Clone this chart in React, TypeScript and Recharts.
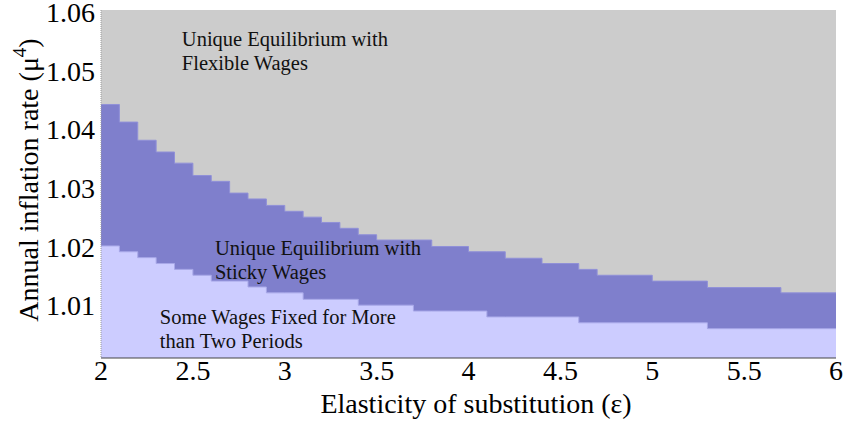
import React from "react";
import {
  ComposedChart,
  Area,
  XAxis,
  YAxis,
  CartesianGrid,
  ReferenceDot,
} from "recharts";

// start of each elasticity interval (last value closes the range)
const epsilon = [
  2.0, 2.1, 2.2, 2.3, 2.4, 2.5, 2.6, 2.7, 2.8, 2.9, 3.0, 3.1, 3.2, 3.3, 3.4, 3.5,
  3.7, 3.8, 4.0, 4.1, 4.2, 4.4, 4.6, 4.7, 5.0, 5.3, 5.7, 6.0,
];
// upper edge of the sticky-wage region (unique equilibrium boundary)
const upperBound = [
  1.0444, 1.0414, 1.0383, 1.0363, 1.0344, 1.0323, 1.0313, 1.0293, 1.0283, 1.0272,
  1.0262, 1.0252, 1.0243, 1.0233, 1.0222, 1.0213, 1.0213, 1.0202, 1.0193, 1.0193,
  1.0182, 1.0173, 1.0163, 1.0153, 1.0143, 1.0132, 1.0123, 1.0123,
];
// upper edge of the "fixed for more than two periods" region
const lowerBound = [
  1.0203, 1.0193, 1.0183, 1.0173, 1.0163, 1.0153, 1.0143, 1.0143, 1.0133, 1.0123,
  1.0123, 1.0112, 1.0112, 1.0112, 1.0102, 1.0102, 1.0092, 1.0092, 1.0092, 1.0082,
  1.0082, 1.0082, 1.0072, 1.0072, 1.0072, 1.0062, 1.0062, 1.0062,
];

const xTicks = [2, 2.5, 3, 3.5, 4, 4.5, 5, 5.5, 6];
const yTicks = [1.01, 1.02, 1.03, 1.04, 1.05, 1.06];
const yDomain = [1.0012, 1.0605];

const regionLabels = [
  { x: 2.44, y: 1.0554, lines: ["Unique Equilibrium with", "Flexible Wages"] },
  { x: 2.62, y: 1.0197, lines: ["Unique Equilibrium with", "Sticky Wages"] },
  { x: 2.32, y: 1.008, lines: ["Some Wages Fixed for More", "than Two Periods"] },
];

const data = epsilon.map((e, i) => ({ e, upper: upperBound[i], lower: lowerBound[i] }));

const FONT = "Liberation Serif";

const regionText = (lines: string[]) => (props: any) => {
  const vb = props.viewBox || {};
  const x = vb.x + (vb.width || 0) / 2;
  const y = vb.y + (vb.height || 0) / 2;
  return (
    <text x={x} y={y} fontFamily={FONT} fontSize={20.5} fill="#111">
      {lines.map((l, i) => (
        <tspan key={i} x={x} dy={i === 0 ? 6 : 24}>
          {l}
        </tspan>
      ))}
    </text>
  );
};

const XTick = (props: any) => (
  <text x={props.x} y={props.y + 22} textAnchor="middle" fontFamily={FONT} fontSize={28} fill="#000">
    {props.payload.value}
  </text>
);

const YTick = (props: any) => (
  <text x={props.x} y={props.y + 9} textAnchor="end" fontFamily={FONT} fontSize={28} fill="#000">
    {props.payload.value.toFixed(2)}
  </text>
);

const YTitle = () => (
  <text
    transform="translate(38,180) rotate(-90)"
    textAnchor="middle"
    fontFamily={FONT}
    fontSize={28}
    fill="#000"
  >
    Annual inflation rate (μ
    <tspan dy={-12} fontSize={19}>4</tspan>
    <tspan dy={12}>)</tspan>
  </text>
);

const XTitle = () => (
  <text x={476} y={413} textAnchor="middle" fontFamily={FONT} fontSize={28} fill="#000">
    Elasticity of substitution (ε)
  </text>
);

export default function App() {
  return (
    <div style={{ width: 843, height: 423, background: "#fff" }}>
      <style>{`body{margin:0}`}</style>
      <ComposedChart
        width={843}
        height={423}
        data={data}
        margin={{ top: 10, right: 7, bottom: 0, left: 0 }}
      >
        <CartesianGrid horizontal={false} vertical={false} fill="#cccccc" />
        <XAxis
          dataKey="e"
          type="number"
          domain={[2, 6]}
          ticks={xTicks}
          height={65}
          tickSize={0}
          tickMargin={0}
          tickLine={false}
          axisLine={{ stroke: "#444", strokeWidth: 1 }}
          tick={<XTick />}
          label={{ content: <XTitle /> }}
        />
        <YAxis
          type="number"
          domain={yDomain}
          ticks={yTicks}
          allowDataOverflow
          width={101}
          tickSize={0}
          tickMargin={6}
          tickLine={false}
          axisLine={{ stroke: "#999", strokeWidth: 1, strokeDasharray: "1 1" }}
          tick={<YTick />}
          label={{ content: <YTitle /> }}
        />
        <Area
          type="stepAfter"
          dataKey="upper"
          stroke="#9090d8"
          strokeWidth={1}
          fill="#7f7fcc"
          fillOpacity={1}
          isAnimationActive={false}
        />
        <Area
          type="stepAfter"
          dataKey="lower"
          stroke="#a8a8e8"
          strokeWidth={1}
          fill="#ccccff"
          fillOpacity={1}
          isAnimationActive={false}
        />
        {regionLabels.map((r, i) => (
          <ReferenceDot
            key={i}
            x={r.x}
            y={r.y}
            r={0}
            fill="none"
            stroke="none"
            label={{ content: regionText(r.lines) }}
          />
        ))}
      </ComposedChart>
    </div>
  );
}
